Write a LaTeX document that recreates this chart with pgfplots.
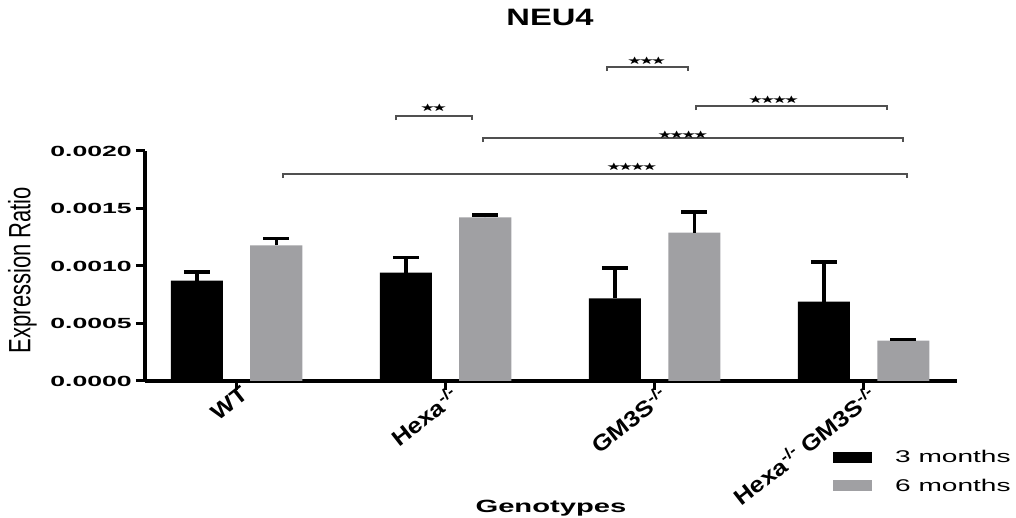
\documentclass[border=0pt]{standalone}
\usepackage{pgfplots}
\pgfplotsset{compat=1.18}
\usepackage{pgfplotstable}
\usepackage{fontspec}
\setmainfont{Liberation Sans}
\newfontfamily\starfont{DejaVu Sans}
\usepackage{graphicx}
\definecolor{bargray}{RGB}{160,160,163}
\definecolor{brk}{RGB}{80,80,80}
\newcommand{\xl}[1]{\scalebox{1.15}[1]{\fontsize{22}{22}\selectfont\bfseries #1}}
\newcommand{\lgd}[1]{\scalebox{1.65}[1]{\fontsize{17}{17}\selectfont #1}}
\newcommand{\sk}{★\kern-2.5pt}
\newcommand{\st}[1]{\scalebox{1.3}[0.8]{\fontsize{13}{13}\selectfont\starfont #1}}
\newcommand{\ko}{\textsuperscript{-/-}}

\pgfplotstableread{
x y e
0 0.000872 0.000075
1 0.000942 0.000133
2 0.000719 0.000265
3 0.000690 0.000345
}\threem
\pgfplotstableread{
x y e
0 0.001180 0.000060
1 0.001423 0.000022
2 0.001290 0.000180
3 0.000350 0.000010
}\sixm

\begin{document}
\begin{tikzpicture}
\useasboundingbox (-145pt,-137pt) rectangle (871pt,381pt);
\begin{axis}[
  at={(0pt,0pt)}, anchor=south west,
  scale only axis, width=812pt, height=230pt,
  xmin=-0.438, xmax=3.447, ymin=0, ymax=0.002,
  axis x line*=bottom, axis y line*=left,
  axis line style={line width=3.5pt, black},
  ytick={0,0.0005,0.001,0.0015,0.002},
  xtick={0,1,2,3},
  xticklabels={\xl{WT},\xl{Hexa\ko},\xl{GM3S\ko},\xl{Hexa\ko{} GM3S\ko}},
  tick align=outside, major tick length=9pt,
  tick style={line width=3pt, black},
  scaled y ticks=false,
  yticklabel={\scalebox{1.9}[1.05]{\fontsize{14}{14}\selectfont\bfseries\pgfmathprintnumber[fixed,fixed zerofill,precision=4,assume math mode=true]{\tick}}},
  yticklabel style={anchor=east, inner sep=0pt, xshift=-4pt},
  xticklabel style={rotate=38, anchor=north east, inner sep=0pt, xshift=6pt, yshift=2pt},
  ybar, bar width=0.249,
  clip=false,
  title={\scalebox{1.38}[1]{\fontsize{23.7}{24}\selectfont\bfseries NEU4}},
  title style={at={(axis description cs:0.4988,1.554)}, anchor=center},
  ylabel={\scalebox{1}[1.4]{Expression Ratio}},
  ylabel style={font=\fontsize{22}{22}\selectfont, at={(axis description cs:-0.1509,0.4826)}, anchor=center},
  xlabel={\scalebox{1.65}[1]{\fontsize{17.7}{18}\selectfont\bfseries Genotypes}},
  xlabel style={at={(axis description cs:0.5,-0.552)}, anchor=center},
  legend style={draw=none, fill=none, at={(axis description cs:0.8473,-0.3)}, anchor=north west,
    inner sep=0pt, row sep=15pt, nodes={inner sep=0pt},
    /tikz/every odd column/.style={column sep=23pt}},
  legend cell align=left,
]
\addplot[fill=black, draw=none, bar shift=-0.19,
  legend image code/.code={\fill[black] (0pt,-5.5pt) rectangle (39pt,5.5pt);},
  error bars/.cd, y dir=plus, y explicit,
  error bar style={line width=3.5pt, black},
  error mark options={rotate=90, line width=3.5pt, mark size=13pt, black}]
  table[x=x, y=y, y error=e] {\threem};
\addlegendentry{\lgd{3 months}}
\addplot[fill=bargray, draw=none, bar shift=0.19,
  legend image code/.code={\fill[bargray] (0pt,-5.5pt) rectangle (39pt,5.5pt);},
  error bars/.cd, y dir=plus, y explicit,
  error bar style={line width=3.5pt, black},
  error mark options={rotate=90, line width=3.5pt, mark size=13pt, black}]
  table[x=x, y=y, y error=e] {\sixm};
\addlegendentry{\lgd{6 months}}

% significance brackets
\draw[brk, line width=1.5pt] (axis cs:0.763,0.002269) |- (axis cs:1.127,0.002304) -- (axis cs:1.127,0.002269);
\draw[brk, line width=1.5pt] (axis cs:1.773,0.002695) |- (axis cs:2.160,0.002730) -- (axis cs:2.160,0.002695);
\draw[brk, line width=1.5pt] (axis cs:2.198,0.002356) |- (axis cs:3.112,0.002391) -- (axis cs:3.112,0.002356);
\draw[brk, line width=1.5pt] (axis cs:1.179,0.002078) |- (axis cs:3.189,0.002113) -- (axis cs:3.189,0.002078);
\draw[brk, line width=1.5pt] (axis cs:0.222,0.001765) |- (axis cs:3.208,0.001800) -- (axis cs:3.208,0.001765);
\node at (axis cs:0.935,0.002374) {\st{\sk\sk}};
\node at (axis cs:1.954,0.002783) {\st{\sk\sk\sk}};
\node at (axis cs:2.562,0.002443) {\st{\sk\sk\sk\sk}};
\node at (axis cs:2.127,0.002139) {\st{\sk\sk\sk\sk}};
\node at (axis cs:1.883,0.001861) {\st{\sk\sk\sk\sk}};
\end{axis}
\end{tikzpicture}
\end{document}
